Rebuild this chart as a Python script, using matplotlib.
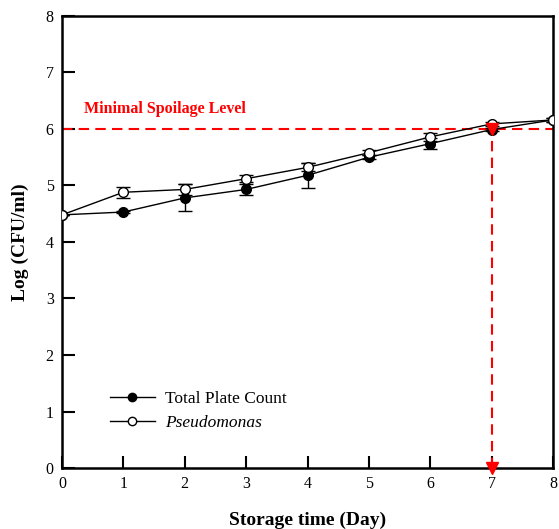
import matplotlib
matplotlib.use("Agg")
import matplotlib.pyplot as plt
from matplotlib.lines import Line2D

days = [0, 1, 2, 3, 4, 5, 6, 7, 8]
tpc = [4.48, 4.53, 4.78, 4.93, 5.18, 5.50, 5.74, 5.99, 6.16]
tpc_err = [0.0, 0.02, 0.24, 0.09, 0.22, 0.04, 0.10, 0.03, 0.03]
pseudo = [4.48, 4.88, 4.93, 5.12, 5.32, 5.58, 5.86, 6.09, 6.16]
pseudo_err = [0.0, 0.10, 0.09, 0.06, 0.07, 0.04, 0.07, 0.03, 0.03]
spoilage_level = 6.0
spoilage_day = 7
xticks = list(range(0, 9))
yticks = list(range(0, 9))
labels = ['Total Plate Count', 'Pseudomonas']

plt.rcParams['font.family'] = ['Liberation Serif', 'DejaVu Serif']

fig = plt.figure(figsize=(5.59, 5.29), dpi=100)
ax = fig.add_axes([0.1109, 0.1153, 0.8784, 0.8545])

ax.errorbar(days, tpc, yerr=tpc_err, fmt='-o', color='black', mfc='black', mec='black',
            ms=7, lw=1.0, elinewidth=1.0, capsize=5, capthick=1.0, zorder=3)
ax.errorbar(days, pseudo, yerr=pseudo_err, fmt='-o', color='black', mfc='white', mec='black',
            ms=7, lw=1.0, elinewidth=1.0, capsize=5, capthick=1.0, zorder=4)

ax.plot([0, 8], [spoilage_level, spoilage_level], color='red', ls=(0, (5, 3)), lw=1.5, zorder=2)
ax.plot([spoilage_day, spoilage_day], [0, spoilage_level], color='red', ls=(0, (5, 3)), lw=1.5, zorder=2)
ax.plot([spoilage_day], [spoilage_level], marker='v', color='red', ms=8, zorder=5, clip_on=False)
ax.plot([spoilage_day], [0.0], marker='v', color='red', ms=8, zorder=5, clip_on=False)

ax.text(0.36, 6.36, 'Minimal Spoilage Level', color='red', fontsize=11.5, fontweight='bold',
        va='center', ha='left')

ax.set_xlim(0, 8)
ax.set_ylim(0, 8)
ax.set_xticks(xticks)
ax.set_yticks(yticks)
ax.tick_params(direction='in', length=9, width=1.5, labelsize=11.5, top=False, right=False, pad=6)
for s in ax.spines.values():
    s.set_linewidth(1.8)

ax.set_xlabel('Storage time (Day)', fontsize=14, fontweight='bold', labelpad=14)
ax.set_ylabel('Log (CFU/ml)', fontsize=14, fontweight='bold', labelpad=12)

handles = [Line2D([], [], color='black', lw=1.0, marker='o', mfc='black', mec='black', ms=6),
           Line2D([], [], color='black', lw=1.0, marker='o', mfc='white', mec='black', ms=6)]
leg = ax.legend(handles, labels, loc='lower left', bbox_to_anchor=(0.065, 0.048), frameon=False,
                fontsize=12.5, handlelength=2.6, handletextpad=0.6, labelspacing=0.45)
leg.get_texts()[1].set_fontstyle('italic')

fig.savefig('out.png', dpi=100)
